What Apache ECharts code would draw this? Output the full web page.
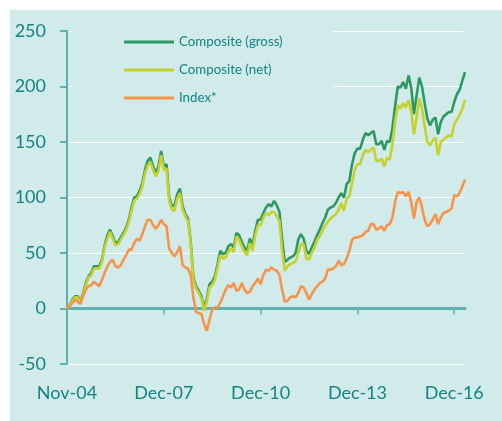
<!DOCTYPE html>
<html><head><meta charset="utf-8">
<script src="https://cdn.jsdelivr.net/npm/echarts@6/dist/echarts.min.js"></script>
<style>
html,body{margin:0;padding:0;background:#ffffff;}
#bg{position:absolute;left:10px;top:10px;width:492px;height:411px;background:#d1eaea;}
#chart{position:absolute;left:0;top:0;width:502px;height:421px;}
</style></head><body><div id="bg"></div><div id="chart"></div>
<script>
// Tick labels every 36 months, starting at Nov-04 (index 0)
const tickLabels = ['Nov-04', 'Dec-07', 'Dec-10', 'Dec-13', 'Dec-16'];
const tickStep = 36;
const seriesNames = ['Composite (gross)', 'Composite (net)', 'Index*'];

const gross = [0,3,8,11,11,6,14,23,29,32,38,38,38,44,57,66,71,65,59,60,
64,68,73,80,91,100,101,106,113,125,133,136,128,122,128,142,128,130,100,92,
93,103,108,92,85,81,60,28,20,16,11,0,9,22,24,29,40,52,49,50,
56,58,55,68,66,60,55,52,63,57,70,80,80,86,91,94,92,97,93,87,
62,42,44,46,47,50,62,67,63,52,49,55,60,66,71,77,82,89,91,92,
95,100,104,100,112,115,130,140,144,144,152,158,156,158,160,148,148,151,143,151,
150,162,182,200,199,204,198,210,199,175,192,208,200,185,171,165,170,172,157,168,
173,175,177,177,186,193,197,205,213];

const net = [0,3,7,10,10,5,13,21,28,30,36,36,36,42,55,63,69,63,57,58,
62,66,71,78,88,97,99,103,110,122,129,132,125,119,124,138,125,126,97,89,
88,99,104,89,83,79,58,26,18,14,9,-2,6,19,21,26,37,48,45,46,
51,54,51,65,62,56,51,48,59,52,66,75,75,82,86,84,87,87,83,79,
52,34,38,40,41,42,50,58,58,45,44,50,55,62,65,70,75,78,81,83,
85,89,95,88,99,101,113,125,130,130,138,143,141,143,145,133,133,135,128,136,
134,148,168,183,180,185,181,188,178,157,172,189,180,164,150,147,151,154,138,150,
152,154,156,155,166,170,174,180,188];

const indexSeries = [0,2,5,8,6,4,11,17,20,21,24,22,20,26,32,38,42,44,38,37,
39,44,48,53,53,59,63,61,67,74,80,80,75,72,75,80,76,74,54,50,
47,51,56,39,37,36,30,10,-3,-4,-5,-14,-20,-10,-1,1,1,5,11,17,
21,19,23,16,17,23,17,14,15,20,23,27,22,30,35,34,37,35,34,30,
17,6,7,10,11,10,14,20,19,14,8,13,17,20,23,24,27,35,35,36,
38,43,39,40,45,52,62,64,64,65,66,69,70,76,76,71,72,74,70,75,
76,82,96,105,104,105,101,105,96,81,96,100,91,80,74,76,80,85,76,82,
86,87,88,90,102,101,104,110,116];

const BG = '#d1eaea';
const TEXT = '#148483';
const AXIS = '#5fb0b0';
const colors = ['#2e9862', '#c6d22b', '#f8944a'];
const FONT = 'Lato';

const toXY = arr => arr.map((v, i) => [i, v]);
const tickValues = tickLabels.map((_, k) => k * tickStep);

const chart = echarts.init(document.getElementById('chart'), null, {renderer: 'canvas'});
chart.setOption({
  animation: false,
  color: colors,
  textStyle: {fontFamily: FONT},
  grid: {left: 67, right: 37, top: 31, bottom: 57, containLabel: false, outerBoundsMode: 'none'},
  legend: {
    orient: 'vertical',
    left: 72, top: 20,
    padding: [14, 50, 10, 52],
    backgroundColor: BG,
    icon: 'rect',
    itemWidth: 50, itemHeight: 3,
    itemGap: 12,
    data: seriesNames,
    textStyle: {color: TEXT, fontSize: 13.3, fontFamily: FONT, lineHeight: 16, padding: [0,0,0,0]}
  },
  xAxis: {
    type: 'value', min: 0, max: gross.length - 1,
    axisLine: {show: true, onZero: true, lineStyle: {color: AXIS, width: 3}},
    axisTick: {show: true, customValues: tickValues, length: 6, lineStyle: {color: AXIS, width: 1.5}},
    axisLabel: {customValues: tickValues, margin: 20, fontSize: 18, color: TEXT, fontFamily: FONT,
      formatter: v => tickLabels[Math.round(v / tickStep)] || ''},
    splitLine: {show: false}
  },
  yAxis: {
    type: 'value', min: -50, max: 250, interval: 50,
    axisLine: {show: true, lineStyle: {color: AXIS, width: 2}},
    axisTick: {show: true, length: 7, lineStyle: {color: AXIS, width: 2}},
    axisLabel: {fontSize: 18, color: TEXT, margin: 21, fontFamily: FONT},
    splitLine: {show: true, lineStyle: {color: '#ffffff', width: 1.2}}
  },
  series: [
    {name: seriesNames[0], type: 'line', data: toXY(gross), symbol: 'none', lineStyle: {width: 2.6, color: colors[0]}},
    {name: seriesNames[1], type: 'line', data: toXY(net), symbol: 'none', lineStyle: {width: 2.6, color: colors[1]}},
    {name: seriesNames[2], type: 'line', data: toXY(indexSeries), symbol: 'none', lineStyle: {width: 2.6, color: colors[2]}}
  ]
});
</script></body></html>
